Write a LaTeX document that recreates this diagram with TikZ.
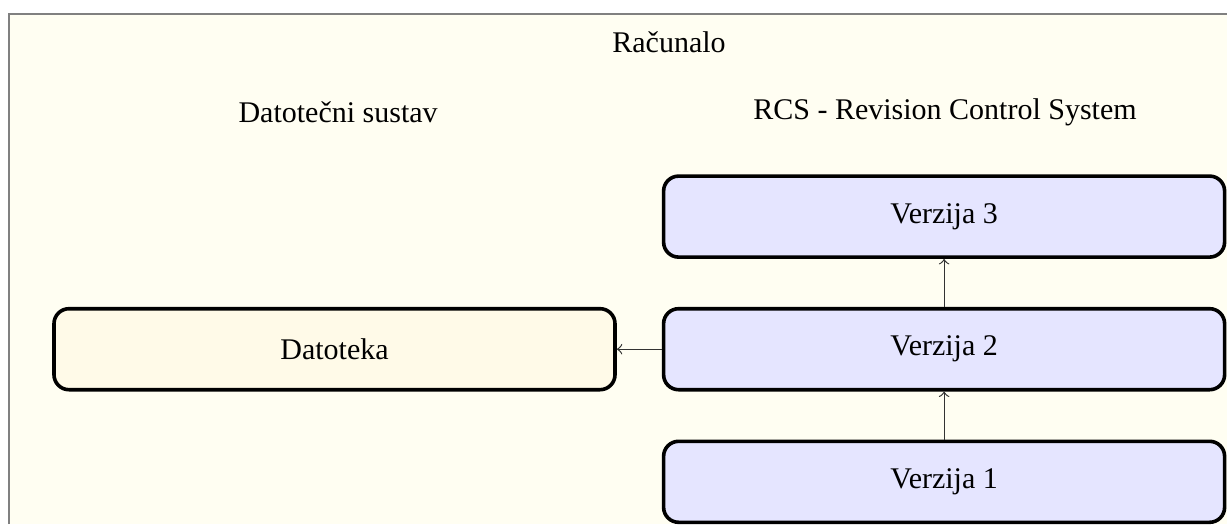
\documentclass[tikz,border=0pt]{standalone}
\usepackage{fontspec}
\setmainfont{Liberation Serif}
\usetikzlibrary{arrows,positioning}
\definecolor{datfill}{RGB}{255,250,232}

\begin{document}
\begin{tikzpicture}[okvir/.style={rectangle, draw, very thick, rounded corners=5pt, minimum width=187pt, minimum height=27pt},
                    verzija/.style={okvir, fill=blue!10},
                    datoteka/.style={okvir, fill=datfill},
                    naslov/.style={inner sep=2pt}]

                \useasboundingbox (0,0) rectangle (409pt,174.7pt);
                \fill[yellow!5] (3pt,0) rectangle (409pt,170pt);
                \draw[gray, line width=0.7pt] (3pt,0) -- (3pt,170pt) -- (409pt,170pt);

                \node[naslov] (racunalo) at (223pt,160.5pt) {Računalo};
                \node[naslov] (datsustav) at (112.7pt,137.3pt) {Datotečni sustav};
                \node[naslov] (rcs) at (315pt,137.3pt) {RCS - Revision Control System};

                \node[verzija] (v2) at (314.7pt,58.3pt) {Verzija 2};
                \node[verzija, above=16pt of v2] (v3) {Verzija 3};
                \node[verzija, below=16pt of v2] (v1) {Verzija 1};
                \node[datoteka, left=15pt of v2] (datoteka) {Datoteka};

                \foreach \s/ \d in {v1/v2, v2/v3, v2/datoteka}{
                    \draw[->, black!80] (\s) -- (\d);
                }

        \end{tikzpicture}
\end{document}
